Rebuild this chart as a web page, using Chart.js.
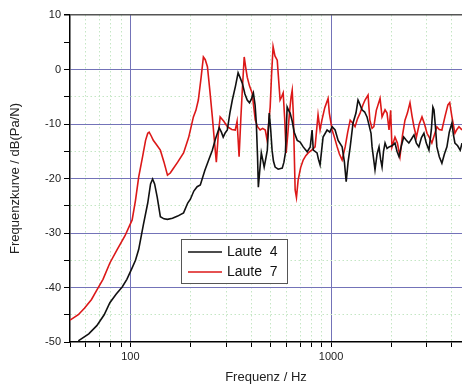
<!DOCTYPE html>
<html>
<head>
<meta charset="utf-8">
<script src="https://cdn.jsdelivr.net/npm/chart.js@4.4.1/dist/chart.umd.min.js"></script>
<style>
  body { margin: 0; background: #fff; }
  #wrap { width: 462px; height: 387px; position: relative; }
</style>
</head>
<body>
<div id="wrap"><canvas id="chart"></canvas></div>
<script>
// Frequenzgang, Werte (Hz / dB)
const laute4Freq = [55, 62, 68, 74, 79, 85, 91, 96, 102, 106, 110, 116, 122, 126, 129, 132, 136, 141, 147, 153,
  162, 172, 184, 193, 199, 207, 215, 223, 235, 246, 256, 265, 277, 284, 290, 297, 304, 313, 322, 334,
  344, 352, 361, 372, 382, 392, 400, 410, 418, 424, 430, 434, 440, 449, 456, 464, 472, 481, 487, 492,
  500, 508, 516, 526, 545, 571, 582, 592, 604, 614, 625, 640, 655, 678, 701, 726, 760, 787, 804, 815,
  851, 865, 881, 912, 955, 985, 1012, 1047, 1084, 1135, 1165, 1189, 1215, 1245, 1286, 1330, 1362, 1378, 1426, 1470,
  1510, 1581, 1600, 1655, 1695, 1733, 1765, 1794, 1825, 1857, 1900, 1944, 2010, 2081, 2130, 2180, 2240, 2300, 2370, 2440,
  2510, 2588, 2660, 2737, 2820, 2901, 2980, 3073, 3160, 3215, 3256, 3310, 3365, 3460, 3565, 3670, 3777, 3880, 4000, 4070,
  4140, 4270, 4400, 4490];
const laute4Db = [-49.8, -48.5, -47, -45, -42.8, -41.2, -39.9, -38.5, -36.4, -35, -33, -28.5, -24.5, -21, -20.1, -21, -23.4, -27, -27.4, -27.5,
  -27.3, -26.9, -26.3, -24.5, -23.8, -22.3, -21.5, -21.2, -18.5, -16.5, -14.8, -12.8, -10.7, -11.5, -12.4, -11.6, -11.1, -8, -5.6, -3,
  -0.6, -1.5, -2.5, -4.5, -5.6, -6.1, -5.5, -4.3, -6.5, -9.8, -16, -21.6, -19, -15.3, -16.5, -17.9, -16.5, -14.8, -11, -8,
  -11, -14.8, -16.8, -17.9, -18.3, -18.1, -17, -15.3, -6.9, -7.5, -8, -9.5, -11.5, -13, -13.3, -14.2, -15.1, -14.2, -11.1, -14.8,
  -15.3, -16.5, -17.5, -12.4, -11.1, -11.5, -10.5, -11.1, -13, -14.2, -17, -20.6, -17, -14.2, -9.8, -8, -5.6, -6, -7.4, -7.8,
  -8.7, -11.7, -14.2, -18.4, -15.5, -14.2, -16.5, -17.9, -15, -13.5, -14.5, -14.2, -14, -13.5, -15, -16, -14, -12.4, -13, -13.5,
  -12.8, -12, -13.5, -14.2, -12.5, -11.7, -13.5, -14.8, -11, -6.9, -7.4, -10.5, -14.2, -16, -17.2, -15.5, -14.2, -11.5, -9.8, -12,
  -13.5, -14, -14.8, -13.5];

const laute7Freq = [50, 55, 59, 64, 68, 73, 79, 86, 94, 102, 106, 110, 115, 119, 122, 124, 127, 130, 135, 141,
  147, 153, 158, 162, 172, 184, 195, 206, 212, 218, 225, 231, 236, 242, 249, 256, 262, 268, 274, 280,
  292, 304, 320, 333, 340, 348, 355, 361, 369, 375, 382, 392, 404, 412, 419, 430, 443, 456, 470, 480,
  488, 497, 505, 514, 525, 539, 548, 557, 567, 577, 587, 597, 608, 620, 632, 640, 648, 662, 672, 685,
  705, 726, 748, 769, 800, 832, 861, 881, 900, 930, 966, 980, 1012, 1040, 1072, 1100, 1135, 1175, 1210, 1245,
  1280, 1316, 1355, 1394, 1440, 1476, 1528, 1560, 1600, 1633, 1680, 1754, 1794, 1857, 1900, 1944, 1980, 2010, 2081, 2140,
  2204, 2270, 2334, 2400, 2472, 2530, 2588, 2660, 2750, 2837, 2920, 3005, 3090, 3177, 3270, 3365, 3460, 3565, 3700, 3820,
  3900, 4000, 4140, 4235, 4335, 4490];
const laute7Db = [-46, -45, -43.8, -42.2, -40.5, -38.5, -35.5, -33, -30.5, -27.6, -24, -19.7, -16, -13, -11.7, -11.5, -12.2, -13, -13.8, -14.8,
  -17, -19.4, -19, -18.4, -17, -15.3, -12.5, -8.7, -7.5, -5.6, -1.5, 2.3, 1.8, 0.5, -4, -8.7, -13, -17, -12, -8.7,
  -9.5, -10.5, -11, -11.1, -9.5, -16, -9, -3.8, 2.3, 0.5, -1.4, -3, -4.3, -7, -9.3, -10.5, -11.1, -10.8, -11.1, -13,
  -10, -6.9, -1, 4.2, 2.5, 1.7, -2, -5.6, -5, -4.3, -9, -15.3, -12, -8, -5, -3.8, -8, -22.1, -23.5, -20.3,
  -18, -16.6, -15.8, -15.3, -14.8, -14.2, -8.3, -11.1, -9.3, -7, -5.3, -8, -11.1, -12.5, -14.2, -15.5, -16.6, -14.2, -11.5, -9.3,
  -9.8, -10.5, -9, -8, -6.5, -5.6, -4.7, -9.3, -10.8, -10.5, -7.5, -5.3, -8.7, -7.4, -8, -11.1, -7.5, -14.2, -12.4, -13.5,
  -16, -12, -9.3, -8, -6.1, -8.5, -10.5, -12.4, -10, -8.7, -10, -11.7, -12.5, -13.5, -12, -10.5, -11, -11.1, -8.5, -6.5,
  -6.1, -8.7, -11.7, -11, -10.5, -11.1];

// Achsen
const xTickValues = [50, 60, 70, 80, 90, 100, 200, 300, 400, 500, 600, 700, 800, 900, 1000, 2000, 3000, 4000];
const xTickLabels = [100, 1000];
const yTickValues = [-50, -45, -40, -35, -30, -25, -20, -15, -10, -5, 0, 5, 10];
const yTickLabels = [-50, -40, -30, -20, -10, 0, 10];

const toPoints = (xs, ys) => xs.map((x, i) => ({ x: x, y: ys[i] }));

const majorColor = '#7373b8';
const minorColor = '#c4e6c4';

// Legende im Diagramm (Kasten mit Rahmen)
const boxLegend = {
  id: 'boxLegend',
  afterDraw(chart) {
    const ctx = chart.ctx;
    const x = 181.5, y = 239.5, w = 106, h = 44;
    ctx.save();
    ctx.fillStyle = '#fff';
    ctx.fillRect(x, y, w, h);
    ctx.strokeStyle = '#555';
    ctx.lineWidth = 1;
    ctx.strokeRect(x, y, w, h);
    chart.data.datasets.forEach((ds, i) => {
      const ly = 252 + i * 20;
      ctx.strokeStyle = ds.borderColor;
      ctx.lineWidth = 1.6;
      ctx.beginPath();
      ctx.moveTo(188, ly);
      ctx.lineTo(222, ly);
      ctx.stroke();
      ctx.fillStyle = '#111';
      ctx.font = '14px "Liberation Sans", Arial, sans-serif';
      ctx.textBaseline = 'middle';
      ctx.fillText(ds.label, 227, ly);
    });
    ctx.restore();
  }
};

new Chart(document.getElementById('chart'), {
  type: 'scatter',
  data: {
    datasets: [
      { label: 'Laute  4', data: toPoints(laute4Freq, laute4Db), borderColor: '#111', borderWidth: 1.6, showLine: true, pointRadius: 0 },
      { label: 'Laute  7', data: toPoints(laute7Freq, laute7Db), borderColor: '#dc1818', borderWidth: 1.6, showLine: true, pointRadius: 0 }
    ]
  },
  options: {
    responsive: true,
    maintainAspectRatio: false,
    animation: false,
    layout: { padding: { top: 15, right: 0, left: 0, bottom: 0 } },
    plugins: { legend: { display: false }, tooltip: { enabled: false } },
    scales: {
      x: {
        type: 'logarithmic',
        min: 50,
        max: 4490,
        afterBuildTicks: s => { s.ticks = xTickValues.map(v => ({ value: v })); },
        afterFit: s => { s.height = 45; },
        ticks: {
          autoSkip: false, maxRotation: 0, padding: 3, color: '#222',
          font: { family: '"Liberation Sans", Arial, sans-serif', size: 11 },
          callback: v => xTickLabels.includes(v) ? String(v) : ''
        },
        grid: {
          color: c => (c.tick && xTickLabels.includes(c.tick.value)) ? majorColor : (c.tick && c.tick.value === 50 ? 'rgba(0,0,0,0)' : minorColor),
          lineWidth: 1, tickColor: '#000', tickLength: 5
        },
        border: {
          color: '#000', width: 1.5,
          dash: c => (c.tick && !xTickLabels.includes(c.tick.value)) ? [1.5, 2.5] : []
        },
        title: {
          display: true, text: 'Frequenz / Hz', color: '#222',
          font: { family: '"Liberation Sans", Arial, sans-serif', size: 13 },
          padding: { top: 0, bottom: 2 }
        }
      },
      y: {
        min: -50,
        max: 10,
        afterBuildTicks: s => { s.ticks = yTickValues.map(v => ({ value: v })); },
        afterFit: s => { s.width = 70; },
        ticks: {
          padding: 3, color: '#222',
          font: { family: '"Liberation Sans", Arial, sans-serif', size: 11 },
          callback: v => yTickLabels.includes(v) ? String(v) : ''
        },
        grid: {
          color: c => {
            if (!c.tick) return minorColor;
            const v = c.tick.value;
            if (v === 10) return '#555';
            if (v === 5 || v === -50) return 'rgba(0,0,0,0)';
            return yTickLabels.includes(v) ? majorColor : minorColor;
          },
          lineWidth: c => (c.tick && c.tick.value === 10) ? 1.5 : 1,
          tickColor: '#000', tickLength: 6
        },
        border: {
          color: '#000', width: 1.5,
          dash: c => (c.tick && !yTickLabels.includes(c.tick.value)) ? [1.5, 2.5] : []
        },
        title: {
          display: true, text: 'Frequenzkurve / dB(Pa/N)', color: '#222',
          font: { family: '"Liberation Sans", Arial, sans-serif', size: 13 },
          padding: { top: 8, bottom: 0 }
        }
      }
    }
  },
  plugins: [boxLegend]
});
</script>
</body>
</html>
